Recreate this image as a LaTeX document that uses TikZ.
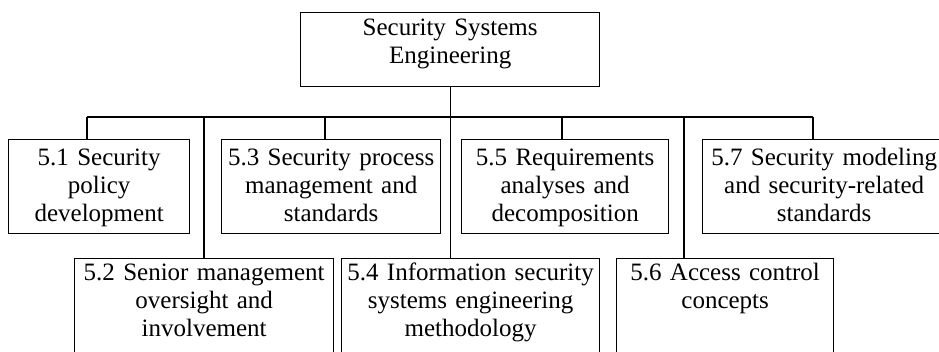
\documentclass[tikz,border=0pt]{standalone}
\usepackage{fontspec}
\setmainfont{Liberation Serif}
\begin{document}
\begin{tikzpicture}[x=1pt,y=1pt,
  box/.style={draw, line width=1.3pt, anchor=north west, inner xsep=0pt, inner ysep=0pt, align=center, font=\fontsize{25}{27.8}\selectfont},
  rowone/.style={box, text height=26pt, text depth=68pt},
  rowtwo/.style={box, text height=22pt, text depth=120pt},
  conn/.style={line width=1.3pt}]
\useasboundingbox (0,0) rectangle (939,-351);
\clip (0,0) rectangle (939,-351);
\node[box, text width=299pt, text height=23pt, text depth=51pt] (top) at (300,-12) {Security Systems\\Engineering};
\node[rowone, text width=181pt] (b51) at (8,-139) {5.1 Security\\policy\\development};
\node[rowone, text width=219pt] (b53) at (221,-139) {5.3 Security process\\management and\\standards};
\node[rowone, text width=207pt] (b55) at (461,-139) {5.5 Requirements\\analyses and\\decomposition};
\node[rowone, text width=243pt] (b57) at (702,-139) {5.7 Security modeling\\and security-related\\standards};
\node[rowtwo, text width=259pt] (b52) at (74,-258) {5.2 Senior management\\oversight and\\involvement};
\node[rowtwo, text width=258pt] (b54) at (341,-258) {5.4 Information security\\systems engineering\\methodology};
\node[rowtwo, text width=217pt] (b56) at (616,-258) {5.6 Access control\\concepts};
\coordinate (jl) at (87,-117);
\coordinate (jr) at (813,-117);
\coordinate (j2) at (204,-117);
\coordinate (j3) at (325,-117);
\coordinate (j5) at (562,-117);
\coordinate (j6) at (684,-117);
\draw[conn] (top.south) -- (top.south |- b54.north);
\draw[conn] (jl) -- (jr);
\draw[conn] (jl) -- (jl |- b51.north);
\draw[conn] (j2) -- (j2 |- b52.north);
\draw[conn] (j3) -- (j3 |- b53.north);
\draw[conn] (j5) -- (j5 |- b55.north);
\draw[conn] (j6) -- (j6 |- b56.north);
\draw[conn] (jr) -- (jr |- b57.north);
\end{tikzpicture}
\end{document}
